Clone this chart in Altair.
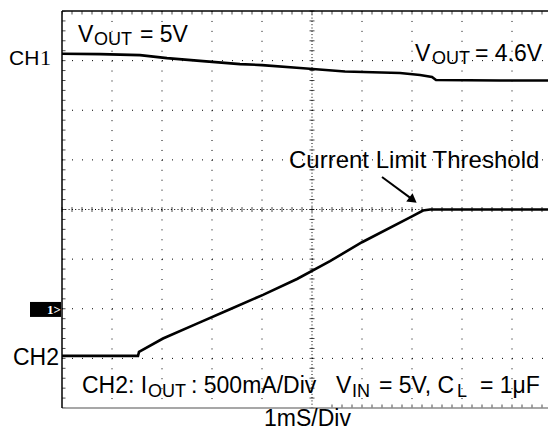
import altair as alt
import pandas as pd

# ---- data (x in divisions of 1 ms, y in divisions from the bottom of the screen) ----
ch1_x = [0.00, 0.76, 1.56, 2.10, 2.82, 3.56, 4.00, 4.76, 5.66, 6.76, 7.16, 7.40, 7.48, 8.76, 9.72]
ch1_y = [7.14, 7.13, 7.11, 7.05, 6.99, 6.93, 6.91, 6.85, 6.78, 6.75, 6.71, 6.67, 6.61, 6.60, 6.60]

ch2_x = [0.00, 1.52, 1.54, 2.02, 2.70, 3.36, 4.02, 4.70, 5.36, 6.00, 7.00, 7.22, 7.36, 9.72]
ch2_y = [1.05, 1.05, 1.13, 1.40, 1.70, 1.99, 2.28, 2.60, 2.96, 3.34, 3.86, 3.98, 4.00, 4.00]

grid_x = [1, 2, 3, 4, 6, 7, 8, 9]
grid_y = [1, 2, 3, 5, 6, 7]
center_x = [5]
center_y = [4]

lab_text = ["CH", "CH2",
            "V", "OUT", "= 5V",
            "V", "OUT", "= 4.6V",
            "Current Limit Threshold",
            "CH2: I", "OUT", ": 500mA/Div",
            "V", "IN", "= 5V, C", "L", "= 1\u03bcF",
            "1mS/Div"]
lab_x = [-1.06, -0.98,
         0.32, 0.64, 1.56,
         7.06, 7.40, 8.26,
         4.54,
         0.40, 1.72, 2.58,
         5.48, 5.80, 6.34, 7.90, 8.36,
         4.04]
lab_y = [6.91, 0.87,
         7.375, 7.315, 7.375,
         6.99, 6.93, 6.99,
         4.836,
         0.302, 0.222, 0.302,
         0.302, 0.222, 0.302, 0.222, 0.302,
         -0.36]
lab_size = [21, 23,
            23, 18, 23,
            23, 18, 23,
            24,
            23, 18, 23,
            23, 18, 23, 18, 23,
            23]

XMAX = 9.72
YMAX = 8

xs = alt.Scale(domain=[0, XMAX], nice=False, zero=False)
ys = alt.Scale(domain=[0, YMAX], nice=False, zero=False)


def ex(f):
    return alt.X(f, type="quantitative", scale=xs, axis=None)


def ey(f):
    return alt.Y(f, type="quantitative", scale=ys, axis=None)


minor_x = [round(i * 0.2, 2) for i in range(0, 49)]
minor_y = [round(i * 0.2, 2) for i in range(0, 41)]

# dotted grid
vgrid = alt.Chart(pd.DataFrame({"x": grid_x, "y": YMAX, "y2": 0})).mark_rule(
    color="black", strokeWidth=1, strokeDash=[1, 8.925]
).encode(x=ex("x"), y=ey("y"), y2=alt.Y2("y2"))
hgrid = alt.Chart(pd.DataFrame({"y": grid_y, "x": 0, "x2": XMAX})).mark_rule(
    color="black", strokeWidth=1, strokeDash=[1, 9]
).encode(y=ey("y"), x=ex("x"), x2=alt.X2("x2"))

# centre lines (dense dots) with minor ticks
cv = alt.Chart(pd.DataFrame({"x": center_x, "y": YMAX, "y2": 0})).mark_rule(
    color="black", strokeWidth=1, strokeDash=[1, 2.3]
).encode(x=ex("x"), y=ey("y"), y2=alt.Y2("y2"))
ch = alt.Chart(pd.DataFrame({"y": center_y, "x": 0, "x2": XMAX})).mark_rule(
    color="black", strokeWidth=1, strokeDash=[1, 2.3]
).encode(y=ey("y"), x=ex("x"), x2=alt.X2("x2"))

tick_h_center = alt.Chart(pd.DataFrame({"x": minor_x, "y": center_y[0]})).mark_tick(
    orient="vertical", size=5, thickness=1, color="black"
).encode(x=ex("x"), y=ey("y"))
tick_v_center = alt.Chart(pd.DataFrame({"y": minor_y, "x": center_x[0]})).mark_tick(
    orient="horizontal", size=5, thickness=1, color="black"
).encode(x=ex("x"), y=ey("y"))

tick_top = alt.Chart(pd.DataFrame({"x": minor_x, "y": YMAX})).mark_tick(
    orient="vertical", size=7, thickness=1, color="black", clip=True
).encode(x=ex("x"), y=ey("y"))
tick_left = alt.Chart(pd.DataFrame({"y": minor_y, "x": 0})).mark_tick(
    orient="horizontal", size=7, thickness=1, color="black", clip=True
).encode(x=ex("x"), y=ey("y"))
tick_bottom = alt.Chart(pd.DataFrame({"x": [v for v in minor_x if v >= 5.4], "y": 0})).mark_tick(
    orient="vertical", size=7, thickness=1, color="black", clip=True
).encode(x=ex("x"), y=ey("y"))

# borders
left_border = alt.Chart(pd.DataFrame({"x": [0], "y": [YMAX], "y2": [0]})).mark_rule(
    color="black", strokeWidth=1.5
).encode(x=ex("x"), y=ey("y"), y2=alt.Y2("y2"))
top_border = alt.Chart(pd.DataFrame({"y": [YMAX], "x": [0], "x2": [XMAX]})).mark_rule(
    color="black", strokeWidth=1.5
).encode(y=ey("y"), x=ex("x"), x2=alt.X2("x2"))
bottom_border = alt.Chart(pd.DataFrame({"y": [0], "x": [0], "x2": [XMAX]})).mark_rule(
    color="#8a8a8a", strokeWidth=1.5
).encode(y=ey("y"), x=ex("x"), x2=alt.X2("x2"))

# traces
ch1 = alt.Chart(pd.DataFrame({"x": ch1_x, "y": ch1_y})).mark_line(
    color="black", strokeWidth=2.6, clip=True
).encode(x=ex("x"), y=ey("y"))
ch2 = alt.Chart(pd.DataFrame({"x": ch2_x, "y": ch2_y})).mark_line(
    color="black", strokeWidth=2.6, clip=True
).encode(x=ex("x"), y=ey("y"))

# arrow
arrow_line = alt.Chart(pd.DataFrame({"x": [6.40], "y": [4.655], "x2": [7.00], "y2": [4.21]})).mark_rule(
    color="black", strokeWidth=2
).encode(x=ex("x"), y=ey("y"), x2=alt.X2("x2"), y2=alt.Y2("y2"))
arrow_head = alt.Chart(pd.DataFrame({"x": [7.02], "y": [4.19]})).mark_point(
    shape="triangle-right", filled=True, color="black", size=110, angle=37, opacity=1
).encode(x=ex("x"), y=ey("y"))

# channel-1 ground marker
marker = alt.Chart(pd.DataFrame({"x": [-0.64], "x2": [-0.02], "y": [1.835], "y2": [2.137]})).mark_rect(
    color="black"
).encode(x=ex("x"), x2=alt.X2("x2"), y=ey("y"), y2=alt.Y2("y2"))
marker_text = alt.Chart(pd.DataFrame({"x": [-0.30], "y": [1.89], "t": ["1>"]})).mark_text(
    align="left", baseline="alphabetic", font="Liberation Serif", fontWeight="bold",
    fontSize=13, color="white"
).encode(x=ex("x"), y=ey("y"), text="t:N")

# labels
labels = alt.Chart(pd.DataFrame({"text": lab_text, "x": lab_x, "y": lab_y, "size": lab_size})).mark_text(
    align="left", baseline="alphabetic", font="Liberation Sans", color="black"
).encode(
    x=ex("x"), y=ey("y"), text="text:N",
    size=alt.Size("size:Q", scale=None, legend=None),
)
ch1_one = alt.Chart(pd.DataFrame({"x": [-0.44], "y": [6.91], "t": ["1"]})).mark_text(
    align="left", baseline="alphabetic", font="Liberation Serif", fontSize=22, color="black"
).encode(x=ex("x"), y=ey("y"), text="t:N")

chart = alt.layer(
    vgrid, hgrid, cv, ch, tick_h_center, tick_v_center, tick_top, tick_left, tick_bottom,
    bottom_border, left_border, top_border,
    ch1, ch2, arrow_line, arrow_head, marker, marker_text, labels, ch1_one,
).properties(
    width=486, height=397,
    autosize="none",
    padding={"left": 54, "top": 3, "right": 0, "bottom": 22},
    background="white",
).configure_view(stroke=None)

chart.save("out.html", embed_options={"renderer": "svg", "actions": False})
